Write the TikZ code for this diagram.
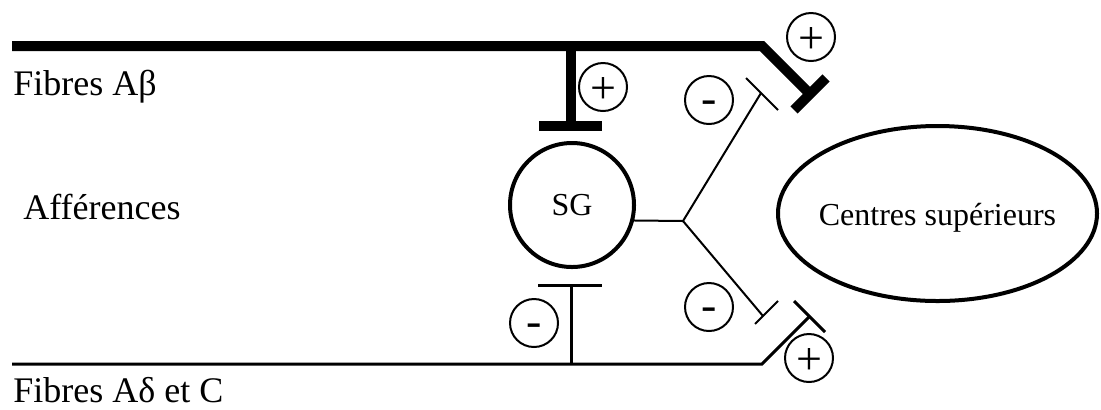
\documentclass[tikz,border=0pt]{standalone}
\usepackage{fontspec}
\setmainfont{Liberation Serif}
\usetikzlibrary{shapes.geometric}
\begin{document}
\begin{tikzpicture}[x=0.5pt,y=-0.5pt,
  thickln/.style={line width=5pt},
  medln/.style={line width=1.5pt},
  finln/.style={line width=1pt},
  sign/.style={circle,draw,line width=1pt,minimum size=24pt,inner sep=0pt,font=\fontsize{23}{23}\selectfont},
  plussign/.style={sign,text height=16.1pt,text depth=0pt},
  minussign/.style={sign,text height=13.3pt,text depth=0pt},
  lbl/.style={anchor=base west,inner sep=0pt,font=\fontsize{18}{18}\selectfont}]
\useasboundingbox (0,0) rectangle (1101,409);

% Fibres A-beta (thick)
\coordinate (ab0) at (12,46);
\coordinate (ab1) at (762,46);
\coordinate (abT) at (810,94);
\coordinate (abTa) at (794,110);
\coordinate (abTb) at (826,78);
\draw[thickln] (ab0) -- (ab1) -- (abT);
\draw[thickln] (abTa) -- (abTb);
\coordinate (vt0) at (571,46);
\coordinate (vt1) at (571,126);
\coordinate (vt1a) at (539,126);
\coordinate (vt1b) at (602,126);
\draw[thickln] (vt0) -- (vt1);
\draw[thickln] (vt1a) -- (vt1b);

% SG
\node[circle,draw,line width=2pt,minimum size=62pt,inner sep=0pt,font=\fontsize{16}{16}\selectfont] (sg) at (572,205) {SG};

% Centres superieurs
\node[ellipse,draw,line width=2pt,minimum width=159.5pt,minimum height=87.5pt,inner sep=0pt] (cs) at (937.5,213.5) {};
\node[anchor=base,inner sep=0pt,yshift=-5.75pt,font=\fontsize{16}{16}\selectfont] (cst) at (cs.center) {Centres supérieurs};

% SG outputs
\coordinate (br) at (683,221);
\coordinate (up1) at (761,93);
\coordinate (upa) at (746,78);
\coordinate (upb) at (778,110);
\coordinate (lo1) at (763,316);
\coordinate (loa) at (755,324);
\coordinate (lob) at (778,301);
\draw[finln] (sg.-14.5) -- (br);
\draw[finln] (br) -- (up1);
\draw[finln] (upa) -- (upb);
\draw[finln] (br) -- (lo1);
\draw[finln] (loa) -- (lob);

% Fibres A-delta et C
\coordinate (ad0) at (12,364);
\coordinate (ad1) at (762,364);
\coordinate (adT) at (809,317);
\coordinate (adTa) at (794,301);
\coordinate (adTb) at (825,332);
\draw[medln] (ad0) -- (ad1) -- (adT);
\draw[medln] (adTa) -- (adTb);
\coordinate (lt0) at (571,364);
\coordinate (lt1) at (571,285);
\coordinate (lt1a) at (538,285);
\coordinate (lt1b) at (602,285);
\draw[medln] (lt0) -- (lt1);
\draw[medln] (lt1a) -- (lt1b);

% signs
\node[plussign] (p1) at (603,87) {+};
\node[plussign] (p2) at (811,37) {+};
\node[minussign] (m1) at (709,100) {-};
\node[minussign] (m2) at (709,307) {-};
\node[minussign] (m3) at (534,323) {-};
\node[plussign] (p3) at (809,358) {+};

% labels
\node[lbl] (lab1) at (13,95) {Fibres Aβ};
\node[lbl] (lab2) at (23,219) {Afférences};
\node[lbl] (lab3) at (13,402) {Fibres Aδ et C};
\end{tikzpicture}
\end{document}
